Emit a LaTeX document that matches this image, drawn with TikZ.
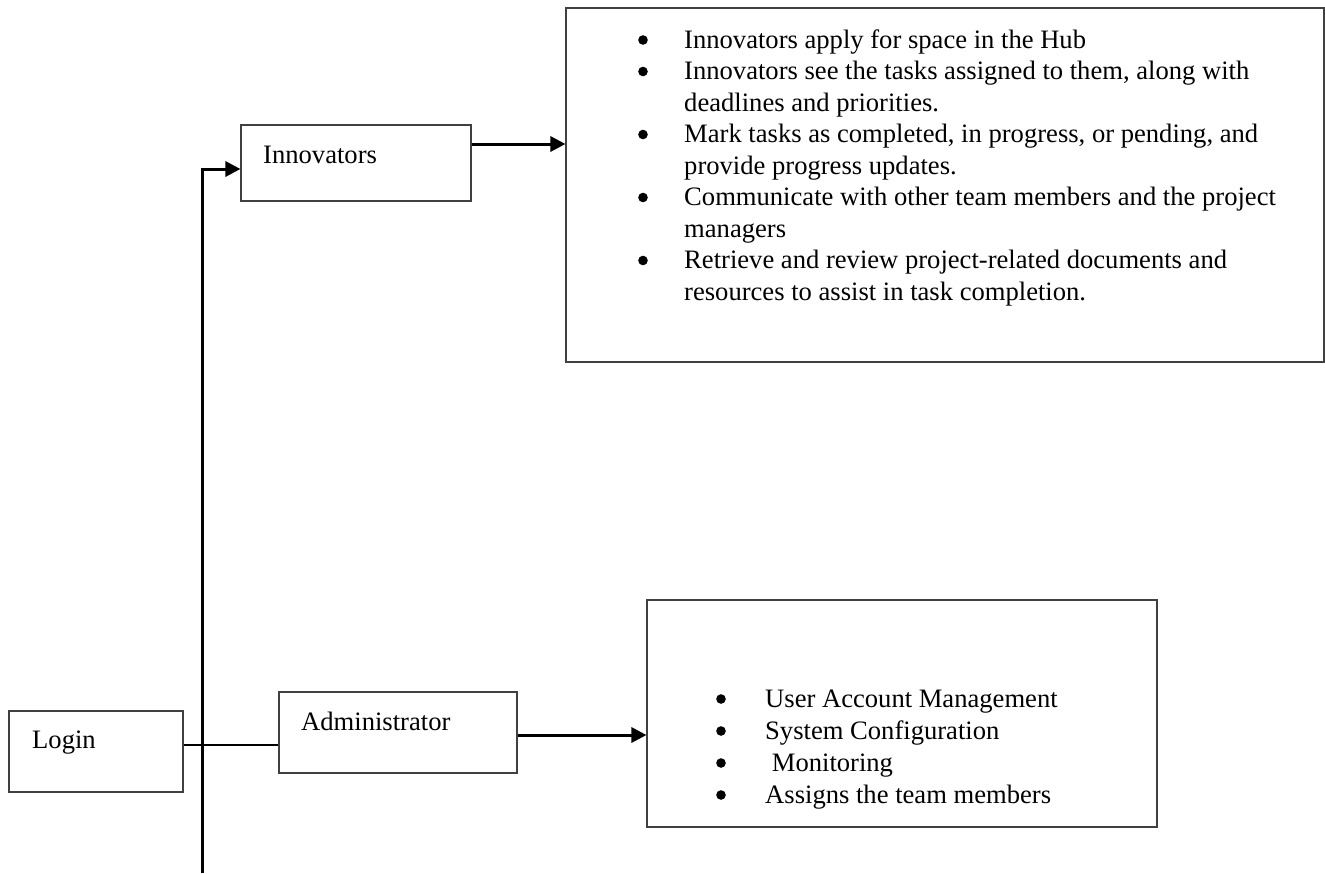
\documentclass[tikz,border=0pt]{standalone}
\usepackage{fontspec}
\setmainfont{Liberation Serif}
\usetikzlibrary{arrows.meta}

% round list bullet, drawn as a filled dot sitting on the baseline
\newcommand{\listdot}{\tikz[x=1pt,y=1pt,baseline=0pt]\fill[black] (0,8) circle (4.8);}

\begin{document}
\begin{tikzpicture}[x=1pt,y=-1pt,
  box/.style={draw=black!75,line width=1.1pt,rectangle,inner sep=0pt},
  conn/.style={draw=black,line width=3pt},
  arr/.style={conn,-{Triangle[length=15pt,width=15pt]}},
  lbl/.style={anchor=base west,inner sep=0pt,font=\fontsize{26.6}{31.5}\selectfont},
]
\useasboundingbox (0,0) rectangle (1325,873);

% boxes
\node[box,minimum width=174pt,minimum height=81pt] (login) at (96,751.5) {};
\node[box,minimum width=230pt,minimum height=76pt] (innov) at (356,163) {};
\node[box,minimum width=238pt,minimum height=81pt] (admin) at (398,732.5) {};
\node[box,minimum width=758pt,minimum height=354pt] (innovtasks) at (945,185) {};
\node[box,minimum width=510pt,minimum height=227pt] (admintasks) at (902,713.5) {};

% box labels
\node[lbl] (logintxt) at (32,748) {Login};
\node[lbl] (innovtxt) at (263,163) {Innovators};
\node[lbl] (admintxt) at (301,730) {Administrator};

% task lists
\node[lbl] (innovlist) at (638,48) {%
  \begin{tabular}[t]{@{}p{46pt}@{}l@{}}
  \listdot & Innovators apply for space in the Hub\\
  \listdot & Innovators see the tasks assigned to them, along with\\
           & deadlines and priorities.\\
  \listdot & Mark tasks as completed, in progress, or pending, and\\
           & provide progress updates.\\
  \listdot & Communicate with other team members and the project\\
           & managers\\
  \listdot & Retrieve and review project-related documents and\\
           & resources to assist in task completion.
  \end{tabular}};
\node[lbl,font=\fontsize{26.6}{32}\selectfont] (adminlist) at (716,707) {%
  \begin{tabular}[t]{@{}p{49pt}@{}l@{}}
  \listdot & User Account Management\\
  \listdot & System Configuration\\
  \listdot & \ Monitoring\\
  \listdot & Assigns the team members
  \end{tabular}};

% junction points of the connectors
\coordinate (trunktop) at (202,169);
\coordinate (trunkbot) at (202,873);
\coordinate (loginrow) at (202,745);
\coordinate (innovrow) at (0,144);
\coordinate (adminrow) at (0,735);

% connectors
\draw[arr] (trunkbot) |- (innov.west |- trunktop);
\draw[conn,line width=2.4pt] (login.east |- loginrow) -- (admin.west |- loginrow);
\draw[arr] (innov.east |- innovrow) -- (innovtasks.west |- innovrow);
\draw[arr] (admin.east |- adminrow) -- (admintasks.west |- adminrow);
\end{tikzpicture}
\end{document}
